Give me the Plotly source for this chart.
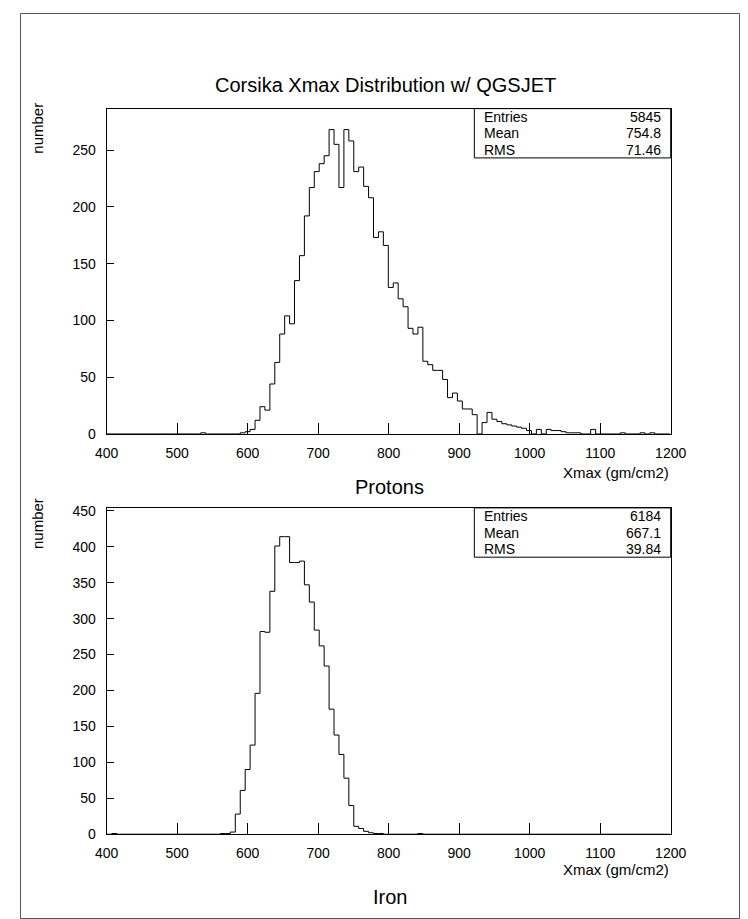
import plotly.graph_objects as go

# ---------------- data ----------------
bin_start = 400.5
bin_width = 7.0
n_bins = 114

proton_counts = [0]*19 + [1] + [0]*7 + [
    1, 2, 4, 12, 24, 21, 44, 63, 88, 104, 97, 135, 157, 192, 217, 231, 238, 245,
    268, 255, 217, 268, 258, 231, 235, 218, 208, 173, 178, 166, 129, 133, 119, 112,
    93, 88, 94, 64, 61, 56, 56, 48, 32, 36, 29, 22, 22, 17, 0, 10, 19, 13, 11, 9,
    8, 7, 6, 5, 3, 0, 4, 0, 4, 3, 3, 2, 1, 1, 1, 0, 0, 4, 0, 0, 0, 0, 0, 1, 0, 0,
    0, 1, 0, 1, 0, 0, 0]

iron_counts = [0, 1] + [0]*21 + [
    1, 1, 3, 28, 61, 90, 124, 196, 282, 281, 338, 401, 414, 414, 378, 378, 380,
    347, 323, 284, 262, 234, 174, 138, 111, 78, 40, 11, 8, 4, 2, 1, 1,
    0, 0, 0, 0, 0, 0, 0, 1]
iron_counts = iron_counts + [0]*(n_bins - len(iron_counts))
proton_counts = proton_counts + [0]*(n_bins - len(proton_counts))

x_ticks = [400, 500, 600, 700, 800, 900, 1000, 1100, 1200]
proton_yticks = [0, 50, 100, 150, 200, 250]
iron_yticks = [0, 50, 100, 150, 200, 250, 300, 350, 400, 450]

proton_stats = [("Entries", "5845"), ("Mean", "754.8"), ("RMS", "71.46")]
iron_stats = [("Entries", "6184"), ("Mean", "667.1"), ("RMS", "39.84")]

title = "Corsika Xmax Distribution w/ QGSJET"
xlabel = "Xmax (gm/cm2)"
ylabel = "number"

# ---------------- layout helpers ----------------
W, H = 748, 919
def px(x):
    return x / W
def py(y):
    return 1 - y / H

FONT = "Liberation Sans"

edges = [bin_start + bin_width * i for i in range(n_bins + 1)]

def step_xy(counts):
    return edges, list(counts) + [counts[-1]]

fig = go.Figure()

xs, ys = step_xy(proton_counts)
fig.add_trace(go.Scatter(x=xs, y=ys, mode="lines", line=dict(shape="hv", color="black", width=1),
                         xaxis="x", yaxis="y", showlegend=False, hoverinfo="skip"))
xs, ys = step_xy(iron_counts)
fig.add_trace(go.Scatter(x=xs, y=ys, mode="lines", line=dict(shape="hv", color="black", width=1),
                         xaxis="x2", yaxis="y2", showlegend=False, hoverinfo="skip"))

# plot frames (pixels)
L, R = 90, 676
top_t, top_b = 97, 427
bot_t, bot_b = 502, 833

axis_common = dict(showgrid=False, zeroline=False, showline=True, linecolor="black", linewidth=1,
                   mirror=True, ticks="inside", tickcolor="black", tickwidth=1,
                   tickfont=dict(family=FONT, size=14, color="black"))

fig.update_layout(
    width=W, height=H,
    margin=dict(l=0, r=0, t=0, b=0),
    paper_bgcolor="white", plot_bgcolor="white",
    xaxis=dict(domain=[px(L), px(R)], anchor="y", range=[400, 1200], tickvals=x_ticks,
               ticklen=11, ticklabelstandoff=6, **axis_common),
    yaxis=dict(domain=[py(top_b), py(top_t)], anchor="x", range=[0, (top_b - top_t) / 1.152],
               tickvals=proton_yticks, ticklen=7, ticklabelstandoff=7, **axis_common),
    xaxis2=dict(domain=[px(L), px(R)], anchor="y2", range=[400, 1200], tickvals=x_ticks,
                ticklen=11, ticklabelstandoff=6, **axis_common),
    yaxis2=dict(domain=[py(bot_b), py(bot_t)], anchor="x2", range=[0, (bot_b - bot_t) / 0.729],
                tickvals=iron_yticks, ticklen=7, ticklabelstandoff=7, **axis_common),
)

ann = []
shapes = []

# outer border
shapes.append(dict(type="rect", xref="paper", yref="paper", x0=px(0.5), x1=px(747.5), y0=py(918.5), y1=py(0.5),
                   line=dict(color="#555555", width=1)))

ann.append(dict(text=title, x=px(380), y=py(73), xref="paper", yref="paper", showarrow=False,
                xanchor="center", yanchor="middle", font=dict(family=FONT, size=20, color="black")))

def stats_box(top, stats):
    bx0, bx1, by0, by1 = 472, 676, top, top + 50
    shapes.append(dict(type="rect", xref="paper", yref="paper", x0=px(bx0), x1=px(bx1), y0=py(by1), y1=py(by0),
                       line=dict(color="black", width=1), fillcolor="white", layer="above"))
    row_h = (by1 - by0) / 3
    for i, (k, v) in enumerate(stats):
        yc = by0 + row_h * (i + 0.5)
        ann.append(dict(text=k, x=px(bx0 + 8), y=py(yc), xref="paper", yref="paper", showarrow=False,
                        xanchor="left", yanchor="middle", font=dict(family=FONT, size=14, color="black")))
        ann.append(dict(text=v, x=px(bx1 - 8), y=py(yc), xref="paper", yref="paper", showarrow=False,
                        xanchor="right", yanchor="middle", font=dict(family=FONT, size=14, color="black")))

stats_box(top_t, proton_stats)
stats_box(bot_t, iron_stats)

for yl, lab_y, name_y, name in [(117, 466, 481, "Protons"), (518, 869, 897, "Iron")]:
    ann.append(dict(text=ylabel, x=px(18), y=py(yl), xref="paper", yref="paper", showarrow=False,
                    textangle=-90, xanchor="center", yanchor="middle",
                    font=dict(family=FONT, size=15, color="black")))
    ann.append(dict(text=xlabel, x=px(676), y=py(lab_y), xref="paper", yref="paper", showarrow=False,
                    xanchor="right", yanchor="middle", font=dict(family=FONT, size=15, color="black")))
    ann.append(dict(text=name, x=px(384), y=py(name_y), xref="paper", yref="paper", showarrow=False,
                    xanchor="center", yanchor="middle", font=dict(family=FONT, size=20, color="black")))

fig.update_layout(annotations=ann, shapes=shapes)
fig.write_html("out.html")
